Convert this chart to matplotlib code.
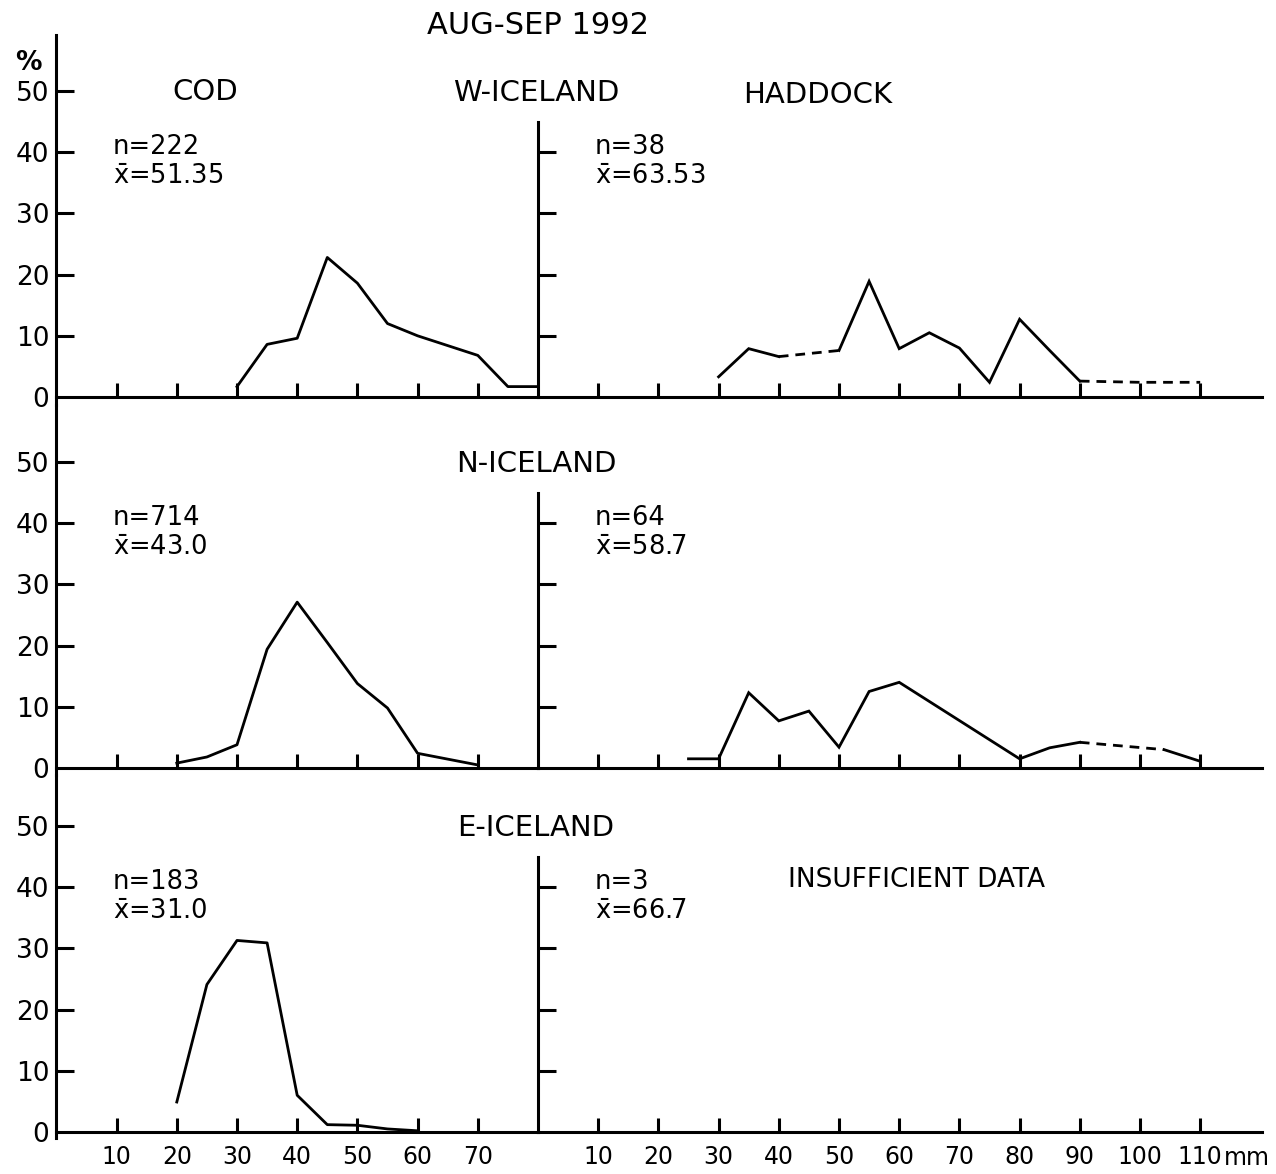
import matplotlib
matplotlib.use('Agg')
import matplotlib.pyplot as plt

plt.rcParams['font.family'] = 'DejaVu Sans'
plt.rcParams['mathtext.default'] = 'regular'

# Cod, length (mm) vs percent
cod_w_len = [30, 35, 40, 45, 50, 55, 60, 70, 75, 80]
cod_w_pct = [1.7, 8.6, 9.6, 22.8, 18.6, 12.0, 10.0, 6.8, 1.7, 1.7]
cod_n_len = [20, 25, 30, 35, 40, 45, 50, 55, 60, 70]
cod_n_pct = [0.8, 1.8, 3.8, 19.4, 27.1, 20.5, 13.8, 9.8, 2.4, 0.5]
cod_e_len = [20, 25, 30, 35, 40, 45, 50, 55, 60]
cod_e_pct = [4.9, 24.1, 31.3, 30.9, 6.0, 1.2, 1.1, 0.5, 0.2]

# Haddock; dashed = index of segments drawn dashed
had_w_len = [30, 35, 40, 50, 55, 60, 65, 70, 75, 80, 85, 90, 100, 110]
had_w_pct = [3.3, 7.9, 6.6, 7.6, 18.9, 7.9, 10.5, 8.0, 2.4, 12.7, 7.6, 2.6, 2.4, 2.4]
had_w_dashed = [2, 11, 12]
had_n_len = [25, 30, 35, 40, 45, 50, 55, 60, 80, 85, 90, 104, 110]
had_n_pct = [1.5, 1.5, 12.3, 7.7, 9.3, 3.4, 12.5, 14.0, 1.5, 3.3, 4.2, 3.0, 1.1]
had_n_dashed = [10]

regions = ['W-ICELAND', 'N-ICELAND', 'E-ICELAND']
cod_n = ['222', '714', '183']
cod_mean = ['51.35', '43.0', '31.0']
had_n = ['38', '64', '3']
had_mean = ['63.53', '58.7', '66.7']

W, H = 1276, 1174
fig = plt.figure(figsize=(W / 100, H / 100), dpi=100)

YS = 6.12   # px per percent
XS = 6.02   # px per mm
DIV = 538   # divider pixel x
rows = [(397, 35, 405), (768, 405, 775), (1132, 775, 1138)]  # zero, top, bottom (px)

LW_AX = 2.2
LW = 2.0


def make_axes(x0px, x1px, xmax, zero, top, bot):
    ymax = (zero - top) / YS
    ymin = (zero - bot) / YS
    ax = fig.add_axes([x0px / W, 1 - bot / H, (x1px - x0px) / W, (bot - top) / H])
    ax.set_xlim(0, xmax)
    ax.set_ylim(ymin, ymax)
    ax.patch.set_alpha(0)
    for s in ['top', 'right']:
        ax.spines[s].set_visible(False)
    ax.spines['bottom'].set_position(('data', 0))
    ax.spines['bottom'].set_linewidth(LW_AX)
    ax.spines['left'].set_linewidth(LW_AX)
    return ax


def plot_segments(ax, xs, ys, dashed):
    # group consecutive segments with the same style
    i = 0
    n = len(xs) - 1
    while i < n:
        style = i in dashed
        j = i
        while j + 1 < n and ((j + 1) in dashed) == style:
            j += 1
        ax.plot(xs[i:j + 2], ys[i:j + 2], color='black', lw=LW,
                ls=(0, (3.5, 2.5)) if style else '-', solid_joinstyle='miter',
                clip_on=False)
        i = j + 1


cod_data = [(cod_w_len, cod_w_pct), (cod_n_len, cod_n_pct), (cod_e_len, cod_e_pct)]
had_data = [(had_w_len, had_w_pct, had_w_dashed), (had_n_len, had_n_pct, had_n_dashed), None]

for r, (zero, top, bot) in enumerate(rows):
    last = r == 2
    # left (cod)
    axl = make_axes(DIV - 80 * XS, DIV, 80, zero, top, bot)
    axl.set_yticks([0, 10, 20, 30, 40, 50])
    axl.tick_params(axis='y', direction='in', length=13, width=LW_AX, labelsize=19, pad=5)
    axl.set_xticks([10, 20, 30, 40, 50, 60, 70])
    axl.tick_params(axis='x', direction='in', length=10, width=LW_AX, labelsize=17,
                    pad=9, labelbottom=last)
    axl.yaxis.get_major_ticks()[0].tick1line.set_visible(False)
    axl.plot(cod_data[r][0], cod_data[r][1], color='black', lw=LW, clip_on=False)

    # right (haddock)
    axr = make_axes(DIV, 1262, (1262 - DIV) / XS, zero, top, bot)
    axr.spines['left'].set_bounds(0, 45)
    axr.set_yticks([10, 20, 30, 40])
    axr.tick_params(axis='y', direction='in', length=13, width=LW_AX, labelleft=False)
    axr.set_xticks([10, 20, 30, 40, 50, 60, 70, 80, 90, 100, 110])
    axr.tick_params(axis='x', direction='in', length=10, width=LW_AX, labelsize=17,
                    pad=9, labelbottom=last)
    if had_data[r] is not None:
        plot_segments(axr, *had_data[r])

    # annotations
    fig.text(113 / W, 1 - (zero - 250) / H, 'n=' + cod_n[r], fontsize=18.5, va='center')
    fig.text(113 / W, 1 - (zero - 220) / H, r'$\bar{x}$=' + cod_mean[r], fontsize=18.5, va='center')
    fig.text(595 / W, 1 - (zero - 250) / H, 'n=' + had_n[r], fontsize=18.5, va='center')
    fig.text(595 / W, 1 - (zero - 220) / H, r'$\bar{x}$=' + had_mean[r], fontsize=18.5, va='center')
    fig.text(536 / W, 1 - (zero - 304) / H, regions[r], fontsize=21, ha='center', va='center')

fig.text(538 / W, 1 - 25 / H, 'AUG-SEP 1992', fontsize=22, ha='center', va='center')
fig.text(205 / W, 1 - 92 / H, 'COD', fontsize=21, ha='center', va='center')
fig.text(818 / W, 1 - 95 / H, 'HADDOCK', fontsize=21, ha='center', va='center')
fig.text(28 / W, 1 - 63 / H, '%', fontsize=19, ha='center', va='center', fontweight='bold')
fig.text(917 / W, 1 - 880 / H, 'INSUFFICIENT DATA', fontsize=19, ha='center', va='center')
fig.text(1247 / W, 1 - 1158 / H, 'mm', fontsize=17, ha='center', va='center')

fig.savefig('out.png', dpi=100)
